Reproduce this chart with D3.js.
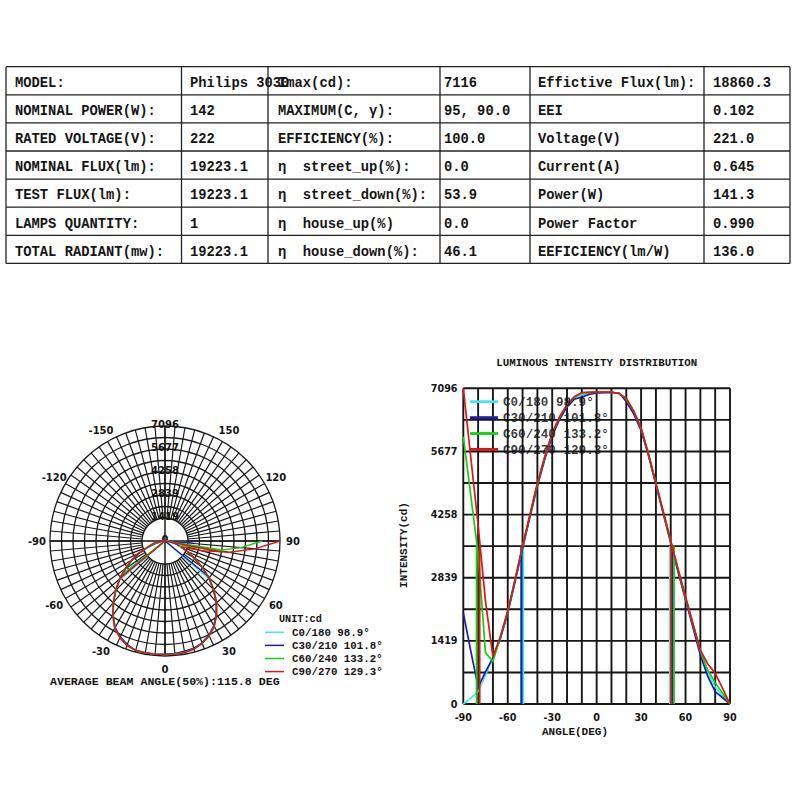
<!DOCTYPE html>
<html><head><meta charset="utf-8">
<script src="https://cdn.jsdelivr.net/npm/d3@7"></script>
<style>
body{margin:0;background:#fff;}
svg text{font-family:"Liberation Mono","Courier New",monospace;font-weight:bold;fill:#151515;}
svg text.sans{font-family:"DejaVu Sans",Verdana,sans-serif;}
</style></head><body>
<svg id="c" width="800" height="800"></svg>
<script>
// ---------- table data ----------
const tableLabelsA = ["MODEL:", "NOMINAL POWER(W):", "RATED VOLTAGE(V):", "NOMINAL FLUX(lm):", "TEST FLUX(lm):", "LAMPS QUANTITY:", "TOTAL RADIANT(mw):"];
const tableValuesA = ["Philips 3030", "142", "222", "19223.1", "19223.1", "1", "19223.1"];
const tableLabelsB = ["Imax(cd):", "MAXIMUM(C, \u03b3):", "EFFICIENCY(%):", "\u03b7  street_up(%):", "\u03b7  street_down(%):", "\u03b7  house_up(%)", "\u03b7  house_down(%):"];
const tableValuesB = ["7116", "95, 90.0", "100.0", "0.0", "53.9", "0.0", "46.1"];
const tableLabelsC = ["Effictive Flux(lm):", "EEI", "Voltage(V)", "Current(A)", "Power(W)", "Power Factor", "EEFICIENCY(lm/W)"];
const tableValuesC = ["18860.3", "0.102", "221.0", "0.645", "141.3", "0.990", "136.0"];

// ---------- chart data ----------
const gammaAngles = [-90,-85,-80,-75,-70,-65,-60,-55,-50,-45,-40,-35,-30,-25,-20,-15,-10,-5,0,5,10,15,20,25,30,35,40,45,50,55,60,65,70,75,80,85,90];
const seriesNames = ["C0/180", "C30/210", "C60/240", "C90/270"];
const beamLabels = ["98.9\u00b0", "101.8\u00b0", "133.2\u00b0", "129.3\u00b0"];
const seriesColors = ["#3ee8f0", "#1c1cb0", "#10d010", "#e01414"];
const c0Values = [0,130,280,650,1050,1480,2050,2780,3530,4230,4930,5540,6060,6440,6700,6880,6950,6990,7000,7010,7000,6990,6850,6560,6180,5600,4950,4300,3640,2990,2370,1760,1150,700,380,180,0];
const c30Values = [2050,1200,380,720,1040,1470,2040,2760,3500,4200,4900,5500,6020,6400,6680,6850,6900,6960,6990,7000,7000,6990,6800,6520,6150,5580,4930,4270,3620,2960,2340,1720,1100,620,280,140,0];
const c60Values = [6010,4700,3380,1150,960,1500,2080,2800,3550,4250,4950,5550,6080,6450,6720,6900,6990,7000,7010,7010,7010,6980,6860,6580,6200,5610,4960,4310,3660,3010,2390,1790,1190,760,480,240,0];
const c90Values = [7096,5560,4020,2300,1060,1510,2090,2810,3560,4260,4960,5560,6090,6460,6730,6910,7000,7010,7010,7010,7010,6980,6870,6590,6210,5620,4970,4320,3670,3030,2410,1810,1210,900,690,350,0];
const beamLeft = [-49.5, -50.9, -81.0, -79.0];
const beamRight = [49.4, 50.9, 52.2, 50.3];
const halfIntensity = 3548;
const intensityMax = 7096;
const intensityTicks = [0, 1419, 2839, 4258, 5677, 7096];
const angleTicks = [-90, -60, -30, 0, 30, 60, 90];
const polarAngleLabels = [-150, -120, -90, -60, -30, 0, 30, 60, 90, 120, 150];
const averageBeam = "AVERAGE BEAM ANGLE(50%):115.8 DEG";

const allValues = [c0Values, c30Values, c60Values, c90Values];
const series = seriesNames.map((n, i) => ({
  name: n, label: beamLabels[i], color: seriesColors[i],
  pts: gammaAngles.map((a, j) => [a, allValues[i][j]]),
  left: beamLeft[i], right: beamRight[i]
}));

const svg = d3.select("#c");

// ---------- table ----------
const colX = [6, 181.5, 268, 440, 530, 704, 790];
const rowY = d3.range(8).map(i => 66.7 + i * 28.1);
const tg = svg.append("g");
rowY.forEach(y => tg.append("line").attr("x1", colX[0]).attr("x2", colX[6]).attr("y1", y).attr("y2", y).attr("stroke", "#222").attr("stroke-width", 1.3));
colX.forEach(x => tg.append("line").attr("x1", x).attr("x2", x).attr("y1", rowY[0]).attr("y2", rowY[7]).attr("stroke", "#222").attr("stroke-width", 1.3));
const textX = [15, 190, 278, 444, 538, 713];
const cols = [tableLabelsA, tableValuesA, tableLabelsB, tableValuesB, tableLabelsC, tableValuesC];
cols.forEach((col, ci) => col.forEach((t, ri) => {
  tg.append("text").attr("x", textX[ci]).attr("y", rowY[ri] + 20.3)
    .attr("font-size", 13.8).attr("xml:space", "preserve").style("white-space", "pre").text(t);
}));

// ---------- polar chart ----------
const cx = 165, cy = 541, R = 115;
const rScale = d3.scaleLinear().domain([0, intensityMax]).range([0, R]);
const pg = svg.append("g").attr("transform", `translate(${cx},${cy})`);
const ringStep = intensityMax / 10;
const ringVals = d3.range(2, 11).map(k => k * ringStep);
ringVals.forEach(v => pg.append("circle").attr("r", rScale(v)).attr("fill", "none").attr("stroke", "#1a1a1a").attr("stroke-width", 1.3));
const innerR = rScale(ringVals[0]);
d3.range(0, 360, 5).forEach(d => {
  const t = d * Math.PI / 180;
  pg.append("line").attr("x1", innerR * Math.sin(t)).attr("y1", innerR * Math.cos(t))
    .attr("x2", R * Math.sin(t)).attr("y2", R * Math.cos(t)).attr("stroke", "#1a1a1a").attr("stroke-width", 1.2);
});
pg.append("line").attr("x1", -R).attr("x2", R).attr("y1", 0).attr("y2", 0).attr("stroke", "#111").attr("stroke-width", 1.4);
pg.append("line").attr("x1", 0).attr("x2", 0).attr("y1", -R).attr("y2", R).attr("stroke", "#111").attr("stroke-width", 1.4);
// ring labels
intensityTicks.forEach(v => pg.append("text").attr("class", "sans").attr("x", 0).attr("y", -rScale(v) + 1.5)
  .attr("text-anchor", "middle").attr("font-size", 10).text(v));
// angle labels
polarAngleLabels.forEach(a => {
  const t = a * Math.PI / 180, rr = 128;
  pg.append("text").attr("class", "sans").attr("x", rr * Math.sin(t)).attr("y", rr * Math.cos(t) + 3.6)
    .attr("text-anchor", "middle").attr("font-size", 10).text(a);
});
// curves
const radial = d3.lineRadial().angle(d => Math.PI + d[0] * Math.PI / 180).radius(d => rScale(d[1]));
series.forEach(s => {
  pg.append("path").attr("d", radial(s.pts)).attr("fill", "none").attr("stroke", s.color).attr("stroke-width", 1.4);
  [s.left, s.right].forEach(e => pg.append("path").attr("d", radial([[e, 0], [e, halfIntensity]]))
    .attr("fill", "none").attr("stroke", s.color).attr("stroke-width", 1.4));
});
// polar legend
svg.append("text").attr("x", 279).attr("y", 622).attr("font-size", 10.2).text("UNIT:cd");
series.forEach((s, i) => {
  const y = 632.3 + i * 13.1;
  svg.append("line").attr("x1", 265).attr("x2", 284).attr("y1", y).attr("y2", y).attr("stroke", s.color).attr("stroke-width", 1.5);
  svg.append("text").attr("x", 292).attr("y", y + 3.6).attr("font-size", 10.8).text(s.name + " " + s.label);
});
svg.append("text").attr("x", 50).attr("y", 685).attr("font-size", 11.6).text(averageBeam);

// ---------- cartesian chart ----------
const x = d3.scaleLinear().domain([-90, 90]).range([463.3, 730]);
const y = d3.scaleLinear().domain([0, intensityMax]).range([704, 388.3]);
const cg = svg.append("g");
d3.range(-90, 91, 10).forEach(a => cg.append("line").attr("x1", x(a)).attr("x2", x(a)).attr("y1", y(0)).attr("y2", y(intensityMax))
  .attr("stroke", "#161616").attr("stroke-width", 1.9));
d3.range(0, 11).forEach(k => cg.append("line").attr("x1", x(-90)).attr("x2", x(90)).attr("y1", y(k * ringStep)).attr("y2", y(k * ringStep))
  .attr("stroke", "#161616").attr("stroke-width", 1.9));
intensityTicks.forEach(v => cg.append("text").attr("class", "sans").attr("x", 457.5).attr("y", y(v) + 3.5)
  .attr("text-anchor", "end").attr("font-size", 9.6).text(v));
angleTicks.forEach(a => cg.append("text").attr("class", "sans").attr("x", x(a)).attr("y", 721)
  .attr("text-anchor", "middle").attr("font-size", 9.6).text(a));
cg.append("text").attr("x", 575).attr("y", 734.5).attr("text-anchor", "middle").attr("font-size", 11).text("ANGLE(DEG)");
cg.append("text").attr("transform", "translate(407,545) rotate(-90)").attr("text-anchor", "middle").attr("font-size", 11).text("INTENSITY(cd)");
cg.append("text").attr("x", 596.7).attr("y", 366).attr("text-anchor", "middle").attr("font-size", 10.8).text("LUMINOUS INTENSITY DISTRIBUTION");
const line = d3.line().x(d => x(d[0])).y(d => y(d[1]));
series.forEach(s => {
  cg.append("path").attr("d", line(s.pts)).attr("fill", "none").attr("stroke", s.color).attr("stroke-width", 1.7);
  [s.left, s.right].forEach(e => cg.append("path").attr("d", line([[e, 0], [e, halfIntensity]]))
    .attr("fill", "none").attr("stroke", s.color).attr("stroke-width", 1.9));
});
// cartesian legend
series.forEach((s, i) => {
  const yy = 401.7 + i * 15.9;
  cg.append("line").attr("x1", 470).attr("x2", 498).attr("y1", yy).attr("y2", yy).attr("stroke", s.color).attr("stroke-width", 2.8);
  cg.append("text").attr("x", 503).attr("y", yy + 4.2).attr("font-size", 12.6).style("fill-opacity", 0.85).text(s.name + " " + s.label);
});
</script></body></html>
